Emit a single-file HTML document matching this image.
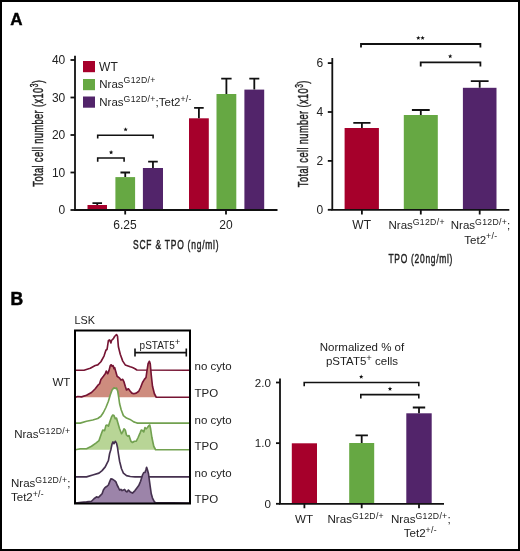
<!DOCTYPE html><html><head><meta charset="utf-8"><style>html,body{margin:0;padding:0;background:#fff}svg{display:block;will-change:transform}text{font-family:"Liberation Sans",sans-serif;fill:#222}</style></head><body>
<svg width="520" height="551" viewBox="0 0 520 551">
<rect x="0" y="0" width="520" height="551" fill="#fff"/>
<rect x="1" y="1" width="518" height="549" fill="none" stroke="#000" stroke-width="2"/>
<text x="10.3" y="24.7" font-size="17" font-weight="bold" style="fill:#000;stroke:#000;stroke-width:0.4">A</text>
<text x="10.6" y="304.6" font-size="17.5" font-weight="bold" style="fill:#000;stroke:#000;stroke-width:0.5">B</text>
<rect x="87.5" y="205" width="19.5" height="5.0" fill="#A6002B"/>
<rect x="115.4" y="177.1" width="19.69999999999999" height="32.900000000000006" fill="#66A843"/>
<rect x="142.9" y="168" width="20.099999999999994" height="42.0" fill="#52246A"/>
<rect x="189" y="118.3" width="19.80000000000001" height="91.7" fill="#A6002B"/>
<rect x="216.5" y="94" width="19.80000000000001" height="116.0" fill="#66A843"/>
<rect x="244.4" y="89.6" width="19.799999999999983" height="120.4" fill="#52246A"/>
<path d="M97.25 205V203.1M92.45 203.1H102.05" stroke="#111" stroke-width="1.8" fill="none"/>
<path d="M125.25 177.1V172.5M120.45 172.5H130.05" stroke="#111" stroke-width="1.8" fill="none"/>
<path d="M152.95 168V161.7M148.14999999999998 161.7H157.75" stroke="#111" stroke-width="1.8" fill="none"/>
<path d="M198.9 118.3V107.9M194.1 107.9H203.70000000000002" stroke="#111" stroke-width="1.8" fill="none"/>
<path d="M226.4 94V78.7M221.20000000000002 78.7H231.6" stroke="#111" stroke-width="1.8" fill="none"/>
<path d="M254.3 89.6V78.7M249.3 78.7H259.3" stroke="#111" stroke-width="1.8" fill="none"/>
<path d="M75 55.8V210.0M74 210.0H277.5" stroke="#111" stroke-width="1.8" fill="none"/>
<path d="M70.5 210.0H75" stroke="#111" stroke-width="1.8" fill="none"/>
<text x="65.3" y="214.1" font-size="12" text-anchor="end" >0</text>
<path d="M70.5 172.5H75" stroke="#111" stroke-width="1.8" fill="none"/>
<text x="65.3" y="176.6" font-size="12" text-anchor="end" >10</text>
<path d="M70.5 135.0H75" stroke="#111" stroke-width="1.8" fill="none"/>
<text x="65.3" y="139.1" font-size="12" text-anchor="end" >20</text>
<path d="M70.5 97.5H75" stroke="#111" stroke-width="1.8" fill="none"/>
<text x="65.3" y="101.6" font-size="12" text-anchor="end" >30</text>
<path d="M70.5 60.0H75" stroke="#111" stroke-width="1.8" fill="none"/>
<text x="65.3" y="64.1" font-size="12" text-anchor="end" >40</text>
<path d="M125.2 210.0V214.5M226 210.0V214.5" stroke="#111" stroke-width="1.8" fill="none"/>
<text x="124.9" y="229.3" font-size="12" text-anchor="middle" >6.25</text>
<text x="226" y="229.3" font-size="12" text-anchor="middle" >20</text>
<text transform="translate(176.2 249.4) scale(0.65 1)" font-size="13" text-anchor="middle" letter-spacing="1.2" style="stroke:#222;stroke-width:0.45">SCF &amp; TPO (ng/ml)</text>
<text transform="translate(42.8 133.2) rotate(-90) scale(0.662 1)" font-size="14" text-anchor="middle" letter-spacing="0.6" style="stroke:#222;stroke-width:0.45">Total cell number (x10<tspan dy="-5.3" font-size="10">3</tspan><tspan dy="5.3">)</tspan></text>
<path d="M97.7 161.7V158H124.1V161.7" stroke="#111" stroke-width="1.6" fill="none"/>
<path d="M97.7 138.6V135.2H153.1V138.6" stroke="#111" stroke-width="1.6" fill="none"/>
<polygon points="111.10,150.10 111.69,151.59 113.29,151.69 112.05,152.71 112.45,154.26 111.10,153.40 109.75,154.26 110.15,152.71 108.91,151.69 110.51,151.59" fill="#111"/>
<polygon points="125.60,127.20 126.19,128.69 127.79,128.79 126.55,129.81 126.95,131.36 125.60,130.50 124.25,131.36 124.65,129.81 123.41,128.79 125.01,128.69" fill="#111"/>
<rect x="83" y="61" width="12" height="11.200000000000003" fill="#A6002B"/>
<rect x="83" y="79" width="12" height="11.200000000000003" fill="#66A843"/>
<rect x="83" y="96.5" width="12" height="11.200000000000003" fill="#52246A"/>
<text x="99.1" y="70.5" font-size="12" text-anchor="start" >WT</text>
<text x="99.3" y="87.6" font-size="11.5" text-anchor="start" >Nras<tspan dy="-4.2" font-size="8.7" letter-spacing="0.3">G12D/+</tspan></text>
<text x="99.3" y="105.8" font-size="11.5" text-anchor="start" >Nras<tspan dy="-4.2" font-size="8.7" letter-spacing="0.3">G12D/+</tspan><tspan dy="4.2">;Tet2</tspan><tspan dy="-4.2" font-size="8.7" letter-spacing="0.3">+/-</tspan></text>
<rect x="344.6" y="128" width="34.299999999999955" height="81.80000000000001" fill="#A6002B"/>
<rect x="403.8" y="115" width="34.0" height="94.80000000000001" fill="#66A843"/>
<rect x="462.9" y="87.8" width="33.60000000000002" height="122.00000000000001" fill="#52246A"/>
<path d="M361.9 128V122.8M353.29999999999995 122.8H370.5" stroke="#111" stroke-width="1.8" fill="none"/>
<path d="M420.8 115V110M411.90000000000003 110H429.7" stroke="#111" stroke-width="1.8" fill="none"/>
<path d="M479.7 87.8V81.2M470.8 81.2H488.59999999999997" stroke="#111" stroke-width="1.8" fill="none"/>
<path d="M332.3 58V209.8M331.3 209.8H509.3" stroke="#111" stroke-width="1.8" fill="none"/>
<path d="M327.8 209.8H332.3" stroke="#111" stroke-width="1.8" fill="none"/>
<text x="323.3" y="213.9" font-size="12" text-anchor="end" >0</text>
<path d="M327.8 160.9H332.3" stroke="#111" stroke-width="1.8" fill="none"/>
<text x="323.3" y="165.0" font-size="12" text-anchor="end" >2</text>
<path d="M327.8 112.00000000000001H332.3" stroke="#111" stroke-width="1.8" fill="none"/>
<text x="323.3" y="116.10000000000001" font-size="12" text-anchor="end" >4</text>
<path d="M327.8 63.10000000000002H332.3" stroke="#111" stroke-width="1.8" fill="none"/>
<text x="323.3" y="67.20000000000002" font-size="12" text-anchor="end" >6</text>
<path d="M361.9 209.8V214.5M420.8 209.8V214.5M479.7 209.8V214.5" stroke="#111" stroke-width="1.8" fill="none"/>
<text x="361.7" y="229.1" font-size="12" text-anchor="middle" >WT</text>
<text x="388.5" y="229.3" font-size="11.5" text-anchor="start" >Nras<tspan dy="-4.2" font-size="8.7" letter-spacing="0.3">G12D/+</tspan></text>
<text x="450.8" y="229.3" font-size="11.5" text-anchor="start" >Nras<tspan dy="-4.2" font-size="8.7" letter-spacing="0.3">G12D/+</tspan><tspan dy="4.2">;</tspan></text>
<text x="464.3" y="243.5" font-size="11.5" text-anchor="start" >Tet2<tspan dy="-4.2" font-size="8.7" letter-spacing="0.3">+/-</tspan></text>
<text transform="translate(420.8 263.4) scale(0.65 1)" font-size="13" text-anchor="middle" letter-spacing="1.1" style="stroke:#222;stroke-width:0.45">TPO (20ng/ml)</text>
<text transform="translate(307.8 133.7) rotate(-90) scale(0.662 1)" font-size="14" text-anchor="middle" letter-spacing="0.6" style="stroke:#222;stroke-width:0.45">Total cell number (x10<tspan dy="-5.3" font-size="10">3</tspan><tspan dy="5.3">)</tspan></text>
<path d="M361 47.6V44H480.4V47.6" stroke="#111" stroke-width="1.8" fill="none"/>
<path d="M420.7 66.4V62.3H480.4V66.4" stroke="#111" stroke-width="1.8" fill="none"/>
<polygon points="418.30,35.70 418.89,37.19 420.49,37.29 419.25,38.31 419.65,39.86 418.30,39.00 416.95,39.86 417.35,38.31 416.11,37.29 417.71,37.19" fill="#111"/>
<polygon points="422.60,35.70 423.19,37.19 424.79,37.29 423.55,38.31 423.95,39.86 422.60,39.00 421.25,39.86 421.65,38.31 420.41,37.29 422.01,37.19" fill="#111"/>
<polygon points="450.20,54.00 450.79,55.49 452.39,55.59 451.15,56.61 451.55,58.16 450.20,57.30 448.85,58.16 449.25,56.61 448.01,55.59 449.61,55.49" fill="#111"/>
<text x="74.5" y="323.5" font-size="10.8" text-anchor="start" >LSK</text>
<path d="M75.50 370.25 L84.00 370.25 L90.25 368.25 L95.25 365.50 L97.75 364.90 L100.90 361.75 L104.00 356.10 L105.90 350.25 L107.10 349.25 L108.40 340.50 L109.60 339.90 L110.90 343.00 L111.50 340.50 L113.40 338.60 L114.60 336.50 L116.50 334.50 L117.50 336.10 L118.40 346.75 L120.25 354.25 L122.75 361.10 L125.25 364.90 L130.25 366.80 L132.50 367.50 L135.00 368.75 L136.90 370.00 L189.50 370.25 Z" fill="#fff" stroke="none"/>
<path d="M75.50 370.25 L84.00 370.25 L90.25 368.25 L95.25 365.50 L97.75 364.90 L100.90 361.75 L104.00 356.10 L105.90 350.25 L107.10 349.25 L108.40 340.50 L109.60 339.90 L110.90 343.00 L111.50 340.50 L113.40 338.60 L114.60 336.50 L116.50 334.50 L117.50 336.10 L118.40 346.75 L120.25 354.25 L122.75 361.10 L125.25 364.90 L130.25 366.80 L132.50 367.50 L135.00 368.75 L136.90 370.00 L189.50 370.25" fill="none" stroke="#761433" stroke-width="1.65" stroke-linejoin="round"/>
<path d="M75.50 397.25 L77.75 396.50 L81.50 396.90 L86.50 395.25 L91.50 392.50 L95.25 388.75 L97.75 385.40 L99.60 383.75 L100.90 379.40 L103.40 376.25 L105.25 373.75 L106.25 371.00 L107.75 373.75 L109.00 370.60 L110.25 365.60 L111.25 364.75 L112.10 366.25 L113.00 365.60 L114.00 368.75 L114.60 367.50 L115.90 371.90 L117.10 376.25 L119.60 378.10 L120.90 380.00 L122.75 379.40 L124.00 381.90 L125.25 386.25 L126.50 390.00 L128.40 388.75 L130.25 391.25 L131.90 393.10 L133.75 393.75 L136.25 393.10 L138.75 391.25 L140.60 387.50 L142.50 382.50 L144.40 379.40 L146.00 377.50 L146.90 371.25 L148.10 363.75 L149.40 361.25 L150.25 363.75 L151.25 375.00 L152.50 386.25 L154.40 393.75 L156.25 397.25 L189.50 397.25 Z" fill="#CE8C7E" stroke="none"/>
<path d="M75.50 397.25 L77.75 396.50 L81.50 396.90 L86.50 395.25 L91.50 392.50 L95.25 388.75 L97.75 385.40 L99.60 383.75 L100.90 379.40 L103.40 376.25 L105.25 373.75 L106.25 371.00 L107.75 373.75 L109.00 370.60 L110.25 365.60 L111.25 364.75 L112.10 366.25 L113.00 365.60 L114.00 368.75 L114.60 367.50 L115.90 371.90 L117.10 376.25 L119.60 378.10 L120.90 380.00 L122.75 379.40 L124.00 381.90 L125.25 386.25 L126.50 390.00 L128.40 388.75 L130.25 391.25 L131.90 393.10 L133.75 393.75 L136.25 393.10 L138.75 391.25 L140.60 387.50 L142.50 382.50 L144.40 379.40 L146.00 377.50 L146.90 371.25 L148.10 363.75 L149.40 361.25 L150.25 363.75 L151.25 375.00 L152.50 386.25 L154.40 393.75 L156.25 397.25 L189.50 397.25" fill="none" stroke="#761433" stroke-width="1.65" stroke-linejoin="round"/>
<path d="M75.50 423.10 L80.25 423.10 L86.50 421.25 L92.75 420.00 L97.75 418.50 L100.90 416.25 L103.40 412.50 L105.90 407.50 L108.40 401.25 L110.25 395.00 L112.10 390.00 L114.00 387.75 L115.25 388.50 L116.50 388.10 L117.75 391.25 L118.75 397.50 L119.60 403.75 L121.25 410.00 L123.40 415.60 L126.50 418.10 L130.00 419.40 L131.90 420.60 L133.75 421.90 L135.60 422.50 L137.50 423.10 L189.50 423.10 Z" fill="#fff" stroke="none"/>
<path d="M75.50 423.10 L80.25 423.10 L86.50 421.25 L92.75 420.00 L97.75 418.50 L100.90 416.25 L103.40 412.50 L105.90 407.50 L108.40 401.25 L110.25 395.00 L112.10 390.00 L114.00 387.75 L115.25 388.50 L116.50 388.10 L117.75 391.25 L118.75 397.50 L119.60 403.75 L121.25 410.00 L123.40 415.60 L126.50 418.10 L130.00 419.40 L131.90 420.60 L133.75 421.90 L135.60 422.50 L137.50 423.10 L189.50 423.10" fill="none" stroke="#72A150" stroke-width="1.65" stroke-linejoin="round"/>
<path d="M75.50 449.75 L80.25 448.75 L86.50 448.75 L91.50 446.25 L95.90 443.10 L99.00 440.60 L100.90 435.00 L102.75 430.00 L104.60 430.60 L105.90 425.60 L107.10 425.00 L108.40 426.25 L109.60 422.50 L111.50 416.90 L112.75 415.00 L114.00 415.60 L115.25 418.75 L116.50 418.10 L117.75 422.50 L119.60 428.75 L121.50 433.75 L122.75 431.90 L124.00 428.75 L125.25 430.00 L126.50 435.00 L127.75 436.25 L129.00 435.60 L130.90 441.25 L132.50 442.50 L134.40 441.25 L136.25 441.25 L138.10 437.50 L140.00 433.10 L141.25 430.00 L142.50 430.60 L143.75 431.90 L145.00 427.50 L146.25 428.75 L147.50 427.50 L148.75 425.60 L149.75 425.00 L150.60 428.75 L151.90 437.50 L153.75 446.25 L155.60 449.75 L189.50 449.75 Z" fill="#B8D596" stroke="none"/>
<path d="M75.50 449.75 L80.25 448.75 L86.50 448.75 L91.50 446.25 L95.90 443.10 L99.00 440.60 L100.90 435.00 L102.75 430.00 L104.60 430.60 L105.90 425.60 L107.10 425.00 L108.40 426.25 L109.60 422.50 L111.50 416.90 L112.75 415.00 L114.00 415.60 L115.25 418.75 L116.50 418.10 L117.75 422.50 L119.60 428.75 L121.50 433.75 L122.75 431.90 L124.00 428.75 L125.25 430.00 L126.50 435.00 L127.75 436.25 L129.00 435.60 L130.90 441.25 L132.50 442.50 L134.40 441.25 L136.25 441.25 L138.10 437.50 L140.00 433.10 L141.25 430.00 L142.50 430.60 L143.75 431.90 L145.00 427.50 L146.25 428.75 L147.50 427.50 L148.75 425.60 L149.75 425.00 L150.60 428.75 L151.90 437.50 L153.75 446.25 L155.60 449.75 L189.50 449.75" fill="none" stroke="#72A150" stroke-width="1.65" stroke-linejoin="round"/>
<path d="M75.50 476.90 L86.50 476.90 L92.75 475.00 L99.00 473.10 L102.10 470.60 L105.25 466.90 L107.10 463.10 L108.40 460.60 L109.60 453.75 L110.90 449.40 L112.10 443.75 L113.00 441.90 L114.00 443.75 L115.25 441.25 L116.50 443.10 L117.50 447.50 L118.40 453.75 L119.60 461.25 L121.50 468.75 L123.40 473.10 L126.50 475.60 L130.25 476.50 L135.00 476.90 L189.50 476.90 Z" fill="#fff" stroke="none"/>
<path d="M75.50 476.90 L86.50 476.90 L92.75 475.00 L99.00 473.10 L102.10 470.60 L105.25 466.90 L107.10 463.10 L108.40 460.60 L109.60 453.75 L110.90 449.40 L112.10 443.75 L113.00 441.90 L114.00 443.75 L115.25 441.25 L116.50 443.10 L117.50 447.50 L118.40 453.75 L119.60 461.25 L121.50 468.75 L123.40 473.10 L126.50 475.60 L130.25 476.50 L135.00 476.90 L189.50 476.90" fill="none" stroke="#45314F" stroke-width="1.65" stroke-linejoin="round"/>
<path d="M75.50 503.00 L81.50 502.25 L86.50 501.90 L91.50 501.25 L94.00 498.75 L96.50 496.90 L98.40 497.50 L100.25 495.60 L102.10 493.75 L103.40 490.00 L104.60 488.10 L105.90 486.90 L107.10 486.25 L108.40 485.00 L109.60 481.90 L110.90 478.75 L112.75 479.40 L114.60 480.60 L115.90 481.90 L117.10 485.00 L118.40 487.50 L119.60 490.00 L120.90 489.40 L122.10 490.60 L123.40 490.00 L124.60 489.40 L125.90 491.25 L127.10 491.90 L128.40 490.00 L130.25 491.90 L132.50 493.10 L135.00 490.60 L136.90 488.10 L138.75 485.60 L140.60 481.25 L142.50 475.00 L143.75 472.50 L145.00 472.50 L146.00 469.40 L146.60 467.25 L147.50 470.00 L148.50 473.75 L150.00 485.00 L151.25 493.75 L152.50 498.10 L154.40 501.90 L155.60 502.50 L189.50 503.00 Z" fill="#9C84A9" stroke="none"/>
<path d="M75.50 503.00 L81.50 502.25 L86.50 501.90 L91.50 501.25 L94.00 498.75 L96.50 496.90 L98.40 497.50 L100.25 495.60 L102.10 493.75 L103.40 490.00 L104.60 488.10 L105.90 486.90 L107.10 486.25 L108.40 485.00 L109.60 481.90 L110.90 478.75 L112.75 479.40 L114.60 480.60 L115.90 481.90 L117.10 485.00 L118.40 487.50 L119.60 490.00 L120.90 489.40 L122.10 490.60 L123.40 490.00 L124.60 489.40 L125.90 491.25 L127.10 491.90 L128.40 490.00 L130.25 491.90 L132.50 493.10 L135.00 490.60 L136.90 488.10 L138.75 485.60 L140.60 481.25 L142.50 475.00 L143.75 472.50 L145.00 472.50 L146.00 469.40 L146.60 467.25 L147.50 470.00 L148.50 473.75 L150.00 485.00 L151.25 493.75 L152.50 498.10 L154.40 501.90 L155.60 502.50 L189.50 503.00" fill="none" stroke="#45314F" stroke-width="1.65" stroke-linejoin="round"/>
<rect x="75" y="330.5" width="115" height="173" fill="none" stroke="#000" stroke-width="2"/>
<path d="M135 348.6V356.5M135 352.6H186.3M186.3 348.6V356.5" stroke="#111" stroke-width="1.6" fill="none"/>
<text x="139.6" y="349" font-size="10" text-anchor="start" >pSTAT5<tspan dy="-4.2" font-size="9.5">+</tspan></text>
<text x="194.5" y="370" font-size="11.5" text-anchor="start" >no cyto</text>
<text x="194.5" y="397" font-size="11.5" text-anchor="start" >TPO</text>
<text x="194.5" y="423.5" font-size="11.5" text-anchor="start" >no cyto</text>
<text x="194.5" y="449.7" font-size="11.5" text-anchor="start" >TPO</text>
<text x="194.5" y="476.8" font-size="11.5" text-anchor="start" >no cyto</text>
<text x="194.5" y="503" font-size="11.5" text-anchor="start" >TPO</text>
<text x="70.3" y="386" font-size="11.5" text-anchor="end" >WT</text>
<text x="14.2" y="437.9" font-size="11.5" text-anchor="start" >Nras<tspan dy="-4.2" font-size="8.7" letter-spacing="0.3">G12D/+</tspan></text>
<text x="11" y="486.9" font-size="11.5" text-anchor="start" >Nras<tspan dy="-4.2" font-size="8.7" letter-spacing="0.3">G12D/+</tspan><tspan dy="4.2">;</tspan></text>
<text x="11" y="500.8" font-size="11.5" text-anchor="start" >Tet2<tspan dy="-4.2" font-size="8.7" letter-spacing="0.3">+/-</tspan></text>
<rect x="291.8" y="443.3" width="25.19999999999999" height="60.5" fill="#A6002B"/>
<rect x="349.2" y="443" width="25.0" height="60.80000000000001" fill="#66A843"/>
<rect x="406.3" y="413.3" width="25.399999999999977" height="90.5" fill="#52246A"/>
<path d="M361.7 443V435.4M355.5 435.4H367.9" stroke="#111" stroke-width="1.8" fill="none"/>
<path d="M419 413.3V407.5M412.8 407.5H425.2" stroke="#111" stroke-width="1.8" fill="none"/>
<path d="M280 378.5V503.8M279 503.8H444" stroke="#111" stroke-width="1.8" fill="none"/>
<path d="M276 503.8H280" stroke="#111" stroke-width="1.8" fill="none"/>
<text x="270.9" y="507.8" font-size="11.6" text-anchor="end" >0</text>
<path d="M276 443.15000000000003H280" stroke="#111" stroke-width="1.8" fill="none"/>
<text x="270.9" y="447.15000000000003" font-size="11.6" text-anchor="end" >1.0</text>
<path d="M276 382.5H280" stroke="#111" stroke-width="1.8" fill="none"/>
<text x="270.9" y="386.5" font-size="11.6" text-anchor="end" >2.0</text>
<path d="M304.4 503.8V508.3M361.7 503.8V508.3M419 503.8V508.3" stroke="#111" stroke-width="1.8" fill="none"/>
<text x="304" y="523.1" font-size="11.6" text-anchor="middle" >WT</text>
<text x="327.5" y="523.3" font-size="11.6" text-anchor="start" >Nras<tspan dy="-4.2" font-size="8.7" letter-spacing="0.3">G12D/+</tspan></text>
<text x="391" y="523.3" font-size="11.6" text-anchor="start" >Nras<tspan dy="-4.2" font-size="8.7" letter-spacing="0.3">G12D/+</tspan><tspan dy="4.2">;</tspan></text>
<text x="403.7" y="537.1" font-size="11.6" text-anchor="start" >Tet2<tspan dy="-4.2" font-size="8.7" letter-spacing="0.3">+/-</tspan></text>
<text x="362" y="350.8" font-size="11.5" text-anchor="middle" >Normalized % of</text>
<text x="362" y="365.4" font-size="11.5" text-anchor="middle" >pSTAT5<tspan dy="-4.6" font-size="9.5">+</tspan><tspan dy="4.6"> cells</tspan></text>
<path d="M304.2 386.3V382.5H418.8V386.3" stroke="#111" stroke-width="1.6" fill="none"/>
<path d="M360.8 398.5V394.6H418.8V398.5" stroke="#111" stroke-width="1.6" fill="none"/>
<polygon points="361.20,374.50 361.79,375.99 363.39,376.09 362.15,377.11 362.55,378.66 361.20,377.80 359.85,378.66 360.25,377.11 359.01,376.09 360.61,375.99" fill="#111"/>
<polygon points="390.00,386.60 390.59,388.09 392.19,388.19 390.95,389.21 391.35,390.76 390.00,389.90 388.65,390.76 389.05,389.21 387.81,388.19 389.41,388.09" fill="#111"/>
</svg></body></html>
